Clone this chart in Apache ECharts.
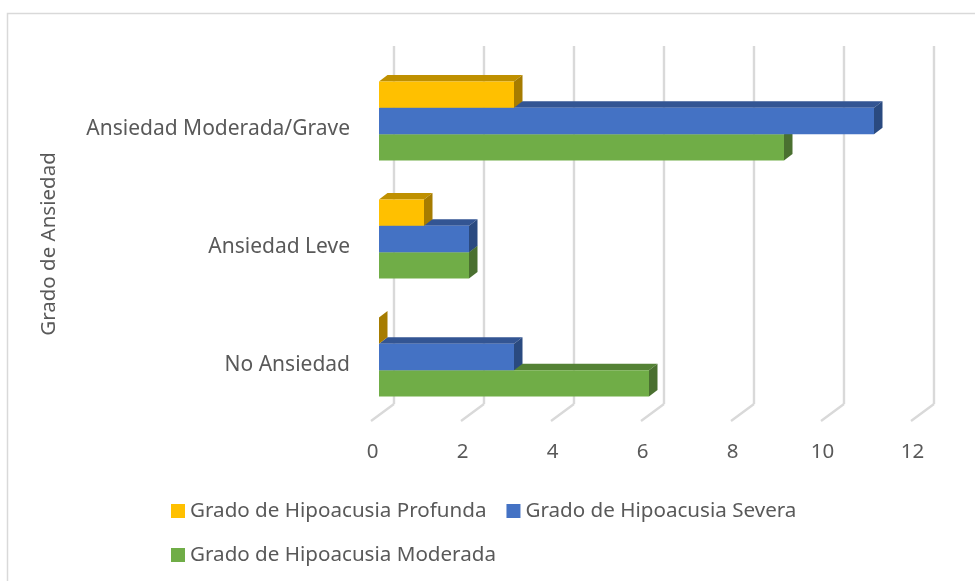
<!DOCTYPE html>
<html>
<head>
<meta charset="utf-8">
<style>
  html, body { margin: 0; padding: 0; background: #fff; }
  #chart { width: 975px; height: 581px; }
</style>
</head>
<body>
<div id="chart"></div>
<script src="https://cdn.jsdelivr.net/npm/echarts@6/dist/echarts.min.js"></script>
<script>
  var categories = ["No Ansiedad", "Ansiedad Leve", "Ansiedad Moderada/Grave"];
  var xTicks = [0, 2, 4, 6, 8, 10, 12];
  var profunda = [0, 1, 3];
  var severa = [3, 2, 11];
  var moderada = [6, 2, 9];

  var textColor = "#595959";
  var fontName = "Noto Sans";
  var barSize = 26.4;
  var depthX = 8.5;
  var depthY = 6.5;

  // one 3D-looking bar: front, top and side faces
  function barRenderer(slot, front, top, side) {
    return function (params, api) {
      var end = api.coord([api.value(0), api.value(1)]);
      var start = api.coord([0, api.value(1)]);
      var y = start[1] - barSize * 1.5 + barSize * slot;
      var x0 = start[0];
      var x1 = end[0];
      var y1 = y + barSize;
      var children = [];
      if (x1 > x0) {
        children.push({
          type: "polygon",
          shape: { points: [[x0, y], [x0 + depthX, y - depthY], [x1 + depthX, y - depthY], [x1, y]] },
          style: { fill: top },
        });
      }
      children.push({
        type: "polygon",
        shape: { points: [[x1, y], [x1 + depthX, y - depthY], [x1 + depthX, y1 - depthY], [x1, y1]] },
        style: { fill: side },
      });
      if (x1 > x0) {
        children.push({
          type: "rect",
          shape: { x: x0, y: y, width: x1 - x0, height: barSize },
          style: { fill: front },
        });
      }
      return { type: "group", children: children };
    };
  }

  // back wall line and floor line of a tick
  function renderWall(params, api) {
    var p = api.coord([api.value(0), 0]);
    var rect = params.coordSys;
    var x = p[0];
    var bottom = rect.y + rect.height;
    var style = { stroke: "#d9d9d9", lineWidth: 2.4, fill: null };
    return {
      type: "group",
      children: [
        { type: "line", shape: { x1: x + 15, y1: rect.y - 16, x2: x + 15, y2: bottom - 12 }, style: style },
        { type: "line", shape: { x1: x + 15, y1: bottom - 12, x2: x - 8, y2: bottom + 5 }, style: style },
      ],
    };
  }

  function toPoints(values) {
    return values.map(function (v, i) {
      return [v, i];
    });
  }

  var chart = echarts.init(document.getElementById("chart"));
  chart.setOption({
    animation: false,
    backgroundColor: "#fff",
    textStyle: { fontFamily: fontName },
    grid: { left: 379, top: 62, width: 540, height: 354 },
    legend: {
      left: 171,
      top: 499,
      width: 700,
      padding: 0,
      itemWidth: 14,
      itemHeight: 14,
      itemGap: 20,
      icon: "rect",
      data: ["Grado de Hipoacusia Profunda", "Grado de Hipoacusia Severa", "Grado de Hipoacusia Moderada"],
      textStyle: { color: textColor, fontSize: 20.6, lineHeight: 24, fontFamily: fontName },
    },
    xAxis: {
      type: "value",
      min: 0,
      max: 12,
      interval: 2,
      axisLine: { show: false },
      axisTick: { show: false },
      splitLine: { show: false },
      axisLabel: {
        color: textColor,
        fontSize: 20.5,
        margin: 26,
        padding: [0, 13, 0, 0],
        fontFamily: fontName,
      },
    },
    yAxis: {
      type: "category",
      data: categories,
      name: "Grado de Ansiedad",
      nameLocation: "middle",
      nameGap: 319,
      nameTextStyle: { color: textColor, fontSize: 20.5, fontFamily: fontName, padding: [0, 10, 0, 0] },
      axisLine: { show: false },
      axisTick: { show: false },
      splitLine: { show: false },
      axisLabel: {
        color: textColor,
        fontSize: 21,
        margin: 29,
        verticalAlign: "top",
        lineHeight: 16,
        fontFamily: fontName,
      },
    },
    graphic: [
      {
        type: "polyline",
        silent: true,
        shape: { points: [[7.5, 581], [7.5, 13.5], [975, 13.5]] },
        style: { stroke: "#d9d9d9", lineWidth: 1.5, fill: null },
      },
    ],
    series: [
      {
        type: "custom",
        silent: true,
        clip: false,
        z: 1,
        renderItem: renderWall,
        encode: { x: 0, y: 1 },
        data: xTicks.map(function (t) {
          return [t, 0];
        }),
      },
      {
        name: "Grado de Hipoacusia Moderada",
        type: "custom",
        clip: false,
        z: 2,
        itemStyle: { color: "#70ad47" },
        renderItem: barRenderer(2, "#70ad47", "#548235", "#4a7030"),
        encode: { x: 0, y: 1 },
        data: toPoints(moderada),
      },
      {
        name: "Grado de Hipoacusia Severa",
        type: "custom",
        clip: false,
        z: 3,
        itemStyle: { color: "#4472c4" },
        renderItem: barRenderer(1, "#4472c4", "#335593", "#2a4a80"),
        encode: { x: 0, y: 1 },
        data: toPoints(severa),
      },
      {
        name: "Grado de Hipoacusia Profunda",
        type: "custom",
        clip: false,
        z: 4,
        itemStyle: { color: "#ffc000" },
        renderItem: barRenderer(0, "#ffc000", "#bf9000", "#a67c00"),
        encode: { x: 0, y: 1 },
        data: toPoints(profunda),
      },
    ],
  });
</script>
</body>
</html>
